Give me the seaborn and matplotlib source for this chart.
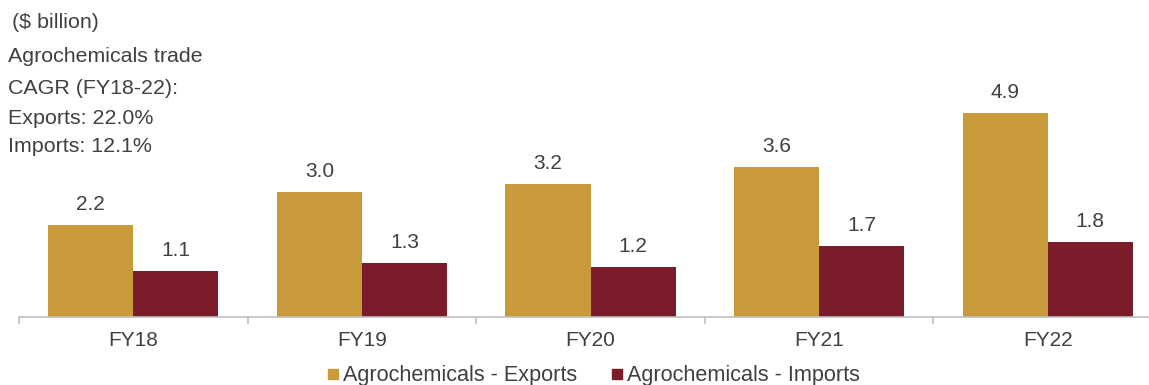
import matplotlib
matplotlib.use("Agg")
import matplotlib.pyplot as plt
from matplotlib.lines import Line2D
import seaborn as sns
import pandas as pd

years = ["FY18", "FY19", "FY20", "FY21", "FY22"]
exports = [2.2, 3.0, 3.2, 3.6, 4.9]
imports = [1.1, 1.3, 1.2, 1.7, 1.8]
series_names = ["Agrochemicals - Exports", "Agrochemicals - Imports"]
notes = ["($ billion)", "Agrochemicals trade", "CAGR (FY18-22):",
         "Exports: 22.0%", "Imports: 12.1%"]

gold = "#C89A3A"
maroon = "#7B1C2A"
text_col = "#404040"

sns.set_theme(style="white")
plt.rcParams["font.family"] = ["Liberation Sans", "DejaVu Sans"]

df = pd.DataFrame({
    "year": years * 2,
    "value": exports + imports,
    "series": [series_names[0]] * len(years) + [series_names[1]] * len(years),
})

W, H = 1149, 385
fig = plt.figure(figsize=(W / 100, H / 100), dpi=100)
ax = fig.add_axes([19 / W, 68 / H, 1143 / W, 317 / H])

sns.barplot(data=df, x="year", y="value", hue="series", order=years,
            hue_order=series_names, palette=[gold, maroon], width=0.745,
            gap=0, saturation=1, legend=False, ax=ax, edgecolor="none")

ax.set_xlim(-0.5, len(years) - 0.5)
ax.set_ylim(0, 317 / 41.6)
ax.set_xlabel("")
ax.set_ylabel("")
ax.set_yticks([])

for side in ["top", "right", "left"]:
    ax.spines[side].set_visible(False)
ax.spines["bottom"].set_color("#BFBFBF")
ax.spines["bottom"].set_linewidth(1.2)

ax.set_xticks(range(len(years)))
ax.set_xticklabels(years, fontsize=15, color=text_col)
ax.tick_params(axis="x", which="major", length=0, pad=10, bottom=True)
ax.set_xticks([i - 0.5 for i in range(len(years) + 1)], minor=True)
ax.tick_params(axis="x", which="minor", length=5, width=1.2, color="#BFBFBF",
               direction="out", bottom=True)

for container in ax.containers:
    ax.bar_label(container, fmt="%.1f", padding=8, fontsize=15, color=text_col)

ys = [23, 56, 88, 118, 147]
xs = [12, 8, 8, 8, 8]
for t, y, x in zip(notes, ys, xs):
    fig.text(x / W, 1 - y / H, t, fontsize=15.4, color=text_col,
             ha="left", va="center")

handles = [Line2D([0], [0], marker="s", linestyle="none", markersize=7,
                  markerfacecolor=c, markeredgecolor=c) for c in (gold, maroon)]
fig.legend(handles, series_names, loc="center", bbox_to_anchor=(594 / W, 1 - 376 / H),
           ncol=2, frameon=False, fontsize=15.6, handletextpad=0.2,
           columnspacing=1.6, handlelength=0.5, labelcolor=text_col)

fig.savefig("out.png", dpi=100)
